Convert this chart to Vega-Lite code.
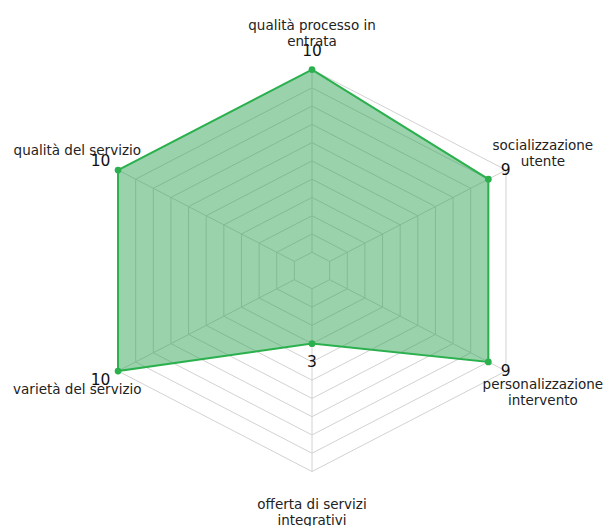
{
  "$schema": "https://vega.github.io/schema/vega-lite/v6.json",
  "width": 609,
  "height": 526,
  "autosize": {"type": "none"},
  "padding": 0,
  "background": "white",
  "config": {"view": {"stroke": null}, "font": "DejaVu Sans"},
  "datasets": {
    "axes": [
      {"axis": "qualità processo in entrata", "label": "qualità processo in\nentrata", "idx": 0, "value": 10, "lines": 2},
      {"axis": "socializzazione utente", "label": "socializzazione\nutente", "idx": 1, "value": 9, "lines": 2},
      {"axis": "personalizzazione intervento", "label": "personalizzazione\nintervento", "idx": 2, "value": 9, "lines": 2},
      {"axis": "offerta di servizi integrativi", "label": "offerta di servizi\nintegrativi", "idx": 3, "value": 3, "lines": 2},
      {"axis": "varietà del servizio", "label": "varietà del servizio", "idx": 4, "value": 10, "lines": 1},
      {"axis": "qualità del servizio", "label": "qualità del servizio", "idx": 5, "value": 10, "lines": 1}
    ],
    "rings": [
      {"l":0,"i":0},{"l":0,"i":1},{"l":0,"i":2},{"l":0,"i":3},{"l":0,"i":4},{"l":0,"i":5},
      {"l":1,"i":0},{"l":1,"i":1},{"l":1,"i":2},{"l":1,"i":3},{"l":1,"i":4},{"l":1,"i":5},
      {"l":2,"i":0},{"l":2,"i":1},{"l":2,"i":2},{"l":2,"i":3},{"l":2,"i":4},{"l":2,"i":5},
      {"l":3,"i":0},{"l":3,"i":1},{"l":3,"i":2},{"l":3,"i":3},{"l":3,"i":4},{"l":3,"i":5},
      {"l":4,"i":0},{"l":4,"i":1},{"l":4,"i":2},{"l":4,"i":3},{"l":4,"i":4},{"l":4,"i":5},
      {"l":5,"i":0},{"l":5,"i":1},{"l":5,"i":2},{"l":5,"i":3},{"l":5,"i":4},{"l":5,"i":5},
      {"l":6,"i":0},{"l":6,"i":1},{"l":6,"i":2},{"l":6,"i":3},{"l":6,"i":4},{"l":6,"i":5},
      {"l":7,"i":0},{"l":7,"i":1},{"l":7,"i":2},{"l":7,"i":3},{"l":7,"i":4},{"l":7,"i":5},
      {"l":8,"i":0},{"l":8,"i":1},{"l":8,"i":2},{"l":8,"i":3},{"l":8,"i":4},{"l":8,"i":5},
      {"l":9,"i":0},{"l":9,"i":1},{"l":9,"i":2},{"l":9,"i":3},{"l":9,"i":4},{"l":9,"i":5},
      {"l":10,"i":0},{"l":10,"i":1},{"l":10,"i":2},{"l":10,"i":3},{"l":10,"i":4},{"l":10,"i":5}
    ]
  },
  "layer": [
    {
      "data": {"name": "rings"},
      "transform": [
        {"calculate": "(datum.l + 1) / 11", "as": "r"},
        {"calculate": "datum.i * PI / 3", "as": "a"},
        {"calculate": "datum.r * sin(datum.a)", "as": "x"},
        {"calculate": "datum.r * cos(datum.a)", "as": "y"}
      ],
      "mark": {"type": "line", "interpolate": "linear-closed", "stroke": "#d2d2d2", "strokeWidth": 1},
      "encoding": {
        "x": {"field": "x", "type": "quantitative", "scale": {"domain": [-1.393, 1.326], "nice": false, "zero": false}, "axis": null},
        "y": {"field": "y", "type": "quantitative", "scale": {"domain": [-1.271, 1.346], "nice": false, "zero": false}, "axis": null},
        "detail": {"field": "l", "type": "nominal"},
        "order": {"field": "i", "type": "quantitative"}
      }
    },
    {
      "data": {"name": "axes"},
      "transform": [
        {"calculate": "datum.idx * PI / 3", "as": "a"},
        {"calculate": "sin(datum.a) / 11", "as": "x"},
        {"calculate": "cos(datum.a) / 11", "as": "y"},
        {"calculate": "sin(datum.a)", "as": "x2"},
        {"calculate": "cos(datum.a)", "as": "y2"}
      ],
      "mark": {"type": "rule", "stroke": "#d2d2d2", "strokeWidth": 1},
      "encoding": {
        "x": {"field": "x", "type": "quantitative", "scale": {"domain": [-1.393, 1.326], "nice": false, "zero": false}, "axis": null},
        "y": {"field": "y", "type": "quantitative", "scale": {"domain": [-1.271, 1.346], "nice": false, "zero": false}, "axis": null},
        "x2": {"field": "x2"},
        "y2": {"field": "y2"}
      }
    },
    {
      "data": {"name": "axes"},
      "transform": [
        {"calculate": "(datum.value + 1) / 11", "as": "r"},
        {"calculate": "datum.idx * PI / 3", "as": "a"},
        {"calculate": "datum.r * sin(datum.a)", "as": "x"},
        {"calculate": "datum.r * cos(datum.a)", "as": "y"}
      ],
      "mark": {"type": "line", "interpolate": "linear-closed", "fill": "#2ca14f", "fillOpacity": 0.48, "stroke": "#2bb04e", "strokeWidth": 2},
      "encoding": {
        "x": {"field": "x", "type": "quantitative", "scale": {"domain": [-1.393, 1.326], "nice": false, "zero": false}, "axis": null},
        "y": {"field": "y", "type": "quantitative", "scale": {"domain": [-1.271, 1.346], "nice": false, "zero": false}, "axis": null},
        "order": {"field": "idx", "type": "quantitative"}
      }
    },
    {
      "data": {"name": "axes"},
      "transform": [
        {"calculate": "(datum.value + 1) / 11", "as": "r"},
        {"calculate": "datum.idx * PI / 3", "as": "a"},
        {"calculate": "datum.r * sin(datum.a)", "as": "x"},
        {"calculate": "datum.r * cos(datum.a)", "as": "y"}
      ],
      "mark": {"type": "point", "filled": true, "size": 45, "color": "#2bb04e", "opacity": 1},
      "encoding": {
        "x": {"field": "x", "type": "quantitative", "scale": {"domain": [-1.393, 1.326], "nice": false, "zero": false}, "axis": null},
        "y": {"field": "y", "type": "quantitative", "scale": {"domain": [-1.271, 1.346], "nice": false, "zero": false}, "axis": null}
      }
    },
    {
      "data": {"name": "axes"},
      "transform": [
        {"calculate": "(datum.value + 1) / 11 + 0.09", "as": "r"},
        {"calculate": "datum.idx * PI / 3", "as": "a"},
        {"calculate": "datum.r * sin(datum.a)", "as": "x"},
        {"calculate": "datum.r * cos(datum.a)", "as": "y"}
      ],
      "mark": {"type": "text", "fontSize": 15.5, "color": "#111", "align": "center", "baseline": "middle"},
      "encoding": {
        "x": {"field": "x", "type": "quantitative", "scale": {"domain": [-1.393, 1.326], "nice": false, "zero": false}, "axis": null},
        "y": {"field": "y", "type": "quantitative", "scale": {"domain": [-1.271, 1.346], "nice": false, "zero": false}, "axis": null},
        "text": {"field": "value", "type": "quantitative"}
      }
    },
    {
      "data": {"name": "axes"},
      "transform": [
        {"filter": "datum.lines == 2"},
        {"calculate": "datum.idx * PI / 3", "as": "a"},
        {"calculate": "1.19 * sin(datum.a)", "as": "x"},
        {"calculate": "1.19 * cos(datum.a)", "as": "y"}
      ],
      "mark": {"type": "text", "fontSize": 13.5, "color": "#222", "align": "center", "baseline": "middle", "lineBreak": "\n", "lineHeight": 16, "dy": -5},
      "encoding": {
        "x": {"field": "x", "type": "quantitative", "scale": {"domain": [-1.393, 1.326], "nice": false, "zero": false}, "axis": null},
        "y": {"field": "y", "type": "quantitative", "scale": {"domain": [-1.271, 1.346], "nice": false, "zero": false}, "axis": null},
        "text": {"field": "label", "type": "nominal"}
      }
    },
    {
      "data": {"name": "axes"},
      "transform": [
        {"filter": "datum.lines == 1"},
        {"calculate": "datum.idx * PI / 3", "as": "a"},
        {"calculate": "1.21 * sin(datum.a)", "as": "x"},
        {"calculate": "1.19 * cos(datum.a)", "as": "y"}
      ],
      "mark": {"type": "text", "fontSize": 13.5, "color": "#222", "align": "center", "baseline": "middle"},
      "encoding": {
        "x": {"field": "x", "type": "quantitative", "scale": {"domain": [-1.393, 1.326], "nice": false, "zero": false}, "axis": null},
        "y": {"field": "y", "type": "quantitative", "scale": {"domain": [-1.271, 1.346], "nice": false, "zero": false}, "axis": null},
        "text": {"field": "label", "type": "nominal"}
      }
    }
  ]
}
